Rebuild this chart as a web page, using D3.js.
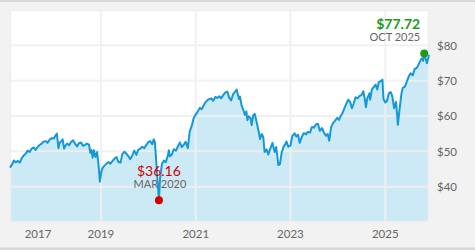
<!DOCTYPE html>
<html>
<head>
<meta charset="utf-8">
<script src="https://cdn.jsdelivr.net/npm/d3@7"></script>
<style>
  html, body { margin: 0; padding: 0; background: #f2f2f2; }
  svg { display: block; font-family: Lato, "Open Sans", sans-serif; }
</style>
</head>
<body>
<svg id="chart" width="475" height="250"></svg>
<script>
const dates2017 = ["2017-01-30","2017-02-15","2017-03-01","2017-03-15","2017-04-01","2017-04-15","2017-05-01","2017-05-15","2017-06-01","2017-06-15","2017-07-01","2017-07-15","2017-08-01","2017-08-15","2017-09-01","2017-09-15","2017-10-01","2017-10-15","2017-11-01","2017-11-15","2017-12-01","2017-12-15"];
const prices2017 = [45.4,46.3,47.4,46.9,47.3,46.8,48.1,48.8,49.4,50.2,49.8,50.7,51.1,50.4,51.3,51.8,52.2,52.7,52.9,52.4,53.3,53.7];

const dates2018 = ["2018-01-02","2018-01-15","2018-01-26","2018-02-08","2018-02-15","2018-03-01","2018-03-12","2018-03-23","2018-04-01","2018-04-15","2018-05-01","2018-05-15","2018-06-01","2018-06-15","2018-07-01","2018-07-15","2018-08-01","2018-08-15","2018-09-01","2018-09-15","2018-10-01","2018-10-11","2018-10-20","2018-10-29","2018-11-08","2018-11-20","2018-12-03","2018-12-14","2018-12-24"];
const prices2018 = [53.6,54.4,55.0,50.9,52.3,52.9,53.4,50.8,51.5,52.2,51.7,52.6,53.1,52.2,51.4,52.3,52.5,51.6,51.8,52.2,51.9,49.6,50.4,48.2,50.3,48.4,49.8,45.9,41.4];

const dates2019 = ["2019-01-04","2019-01-15","2019-02-01","2019-02-15","2019-03-01","2019-03-15","2019-04-01","2019-04-15","2019-05-01","2019-05-15","2019-06-01","2019-06-15","2019-07-01","2019-07-15","2019-08-01","2019-08-15","2019-09-01","2019-09-15","2019-10-01","2019-10-15","2019-11-01","2019-11-15","2019-12-01","2019-12-15"];
const prices2019 = [44.2,45.4,46.1,46.6,47.0,46.5,47.3,47.9,48.4,47.0,46.8,49.2,49.9,49.4,48.6,47.8,48.9,50.2,49.0,50.4,50.8,51.3,50.9,51.7];

const dates2020 = ["2020-01-01","2020-01-15","2020-02-01","2020-02-12","2020-02-21","2020-03-01","2020-03-09","2020-03-16","2020-03-23","2020-04-01","2020-04-15","2020-05-01","2020-05-15","2020-06-01","2020-06-08","2020-06-15","2020-07-01","2020-07-15","2020-08-01","2020-08-15","2020-09-01","2020-09-15","2020-10-01","2020-10-15","2020-11-01","2020-11-15","2020-12-01","2020-12-15"];
const prices2020 = [52.6,52.9,52.0,53.4,52.6,48.0,43.1,39.9,36.16,42.4,46.4,47.4,46.9,49.0,50.3,48.6,49.1,50.6,50.2,51.3,52.5,51.2,51.9,52.7,50.9,55.6,57.2,59.3];

const dates2021 = ["2021-01-01","2021-01-15","2021-02-01","2021-02-15","2021-03-01","2021-03-15","2021-04-01","2021-04-15","2021-05-01","2021-05-15","2021-06-01","2021-06-15","2021-07-01","2021-07-15","2021-08-01","2021-08-15","2021-09-01","2021-09-15","2021-10-01","2021-10-15","2021-11-01","2021-11-12","2021-11-30","2021-12-08","2021-12-20"];
const prices2021 = [60.4,61.2,62.3,61.9,62.8,63.8,64.5,64.8,65.0,64.3,65.4,65.1,65.6,65.0,65.9,66.6,66.9,65.2,64.4,66.1,66.9,67.5,64.8,65.5,63.1];

const dates2022 = ["2022-01-01","2022-01-15","2022-01-26","2022-02-03","2022-02-15","2022-02-28","2022-03-08","2022-03-20","2022-04-01","2022-04-15","2022-05-01","2022-05-12","2022-05-25","2022-06-05","2022-06-16","2022-07-01","2022-07-14","2022-08-01","2022-08-16","2022-09-01","2022-09-13","2022-09-30","2022-10-12","2022-10-25","2022-11-10","2022-11-25","2022-12-01","2022-12-15"];
const prices2022 = [61.9,60.3,61.3,58.8,59.9,59.4,57.4,60.2,60.6,58.3,55.6,53.5,54.9,54.1,49.8,50.6,49.1,51.0,52.4,49.8,51.2,46.1,46.4,49.6,51.4,52.2,52.8,51.3];

const dates2023 = ["2023-01-01","2023-01-15","2023-02-01","2023-02-15","2023-03-01","2023-03-13","2023-04-01","2023-04-15","2023-05-01","2023-05-15","2023-06-01","2023-06-15","2023-07-01","2023-07-15","2023-08-01","2023-08-15","2023-09-01","2023-09-15","2023-10-01","2023-10-15","2023-10-27","2023-11-10","2023-11-25","2023-12-10","2023-12-28"];
const prices2023 = [51.6,54.3,55.1,54.2,54.7,52.4,54.3,55.2,54.8,55.5,55.3,56.9,56.7,57.6,57.8,55.8,56.6,55.4,54.4,54.9,53.0,56.8,58.0,58.6,59.5];

const dates2024 = ["2024-01-10","2024-01-25","2024-02-08","2024-02-22","2024-03-07","2024-03-21","2024-04-05","2024-04-19","2024-05-03","2024-05-17","2024-06-01","2024-06-15","2024-07-01","2024-07-16","2024-07-25","2024-08-05","2024-08-15","2024-09-01","2024-09-06","2024-09-20","2024-10-05","2024-10-18","2024-10-31","2024-11-12","2024-11-29","2024-12-10","2024-12-18"];
const prices2024 = [58.9,60.1,61.0,62.3,63.5,64.6,64.0,62.2,63.6,65.3,65.0,65.6,65.9,67.0,65.2,62.5,65.0,66.4,64.6,67.6,68.2,68.9,67.5,69.6,69.9,70.3,64.8];

const dates2025 = ["2025-01-01","2025-01-13","2025-01-28","2025-02-12","2025-02-25","2025-03-10","2025-03-25","2025-04-03","2025-04-08","2025-04-20","2025-05-05","2025-05-15","2025-06-01","2025-06-15","2025-07-01","2025-07-15","2025-08-01","2025-08-15","2025-09-01","2025-09-15","2025-10-01","2025-10-10","2025-10-20","2025-10-28","2025-11-07","2025-11-18","2025-12-04"];
const prices2025 = [63.8,64.2,66.4,66.8,65.4,62.2,64.0,60.0,57.5,61.6,66.2,67.9,68.3,69.6,71.2,72.1,71.5,73.3,73.6,74.6,75.9,76.3,75.6,77.72,76.4,74.9,77.3];

const yTickValues = [40, 50, 60, 70, 80];
const xTickYears = [2017, 2019, 2021, 2023, 2025];
const yDomain = [30, 90];

// ---- build
const parse = d3.timeParse("%Y-%m-%d");
const allDates = [].concat(dates2017, dates2018, dates2019, dates2020, dates2021, dates2022, dates2023, dates2024, dates2025);
const allPrices = [].concat(prices2017, prices2018, prices2019, prices2020, prices2021, prices2022, prices2023, prices2024, prices2025);
const data = allDates.map((d, i) => ({ date: parse(d), value: allPrices[i] }));

const W = 475, H = 250;
const M = { left: 10, top: 10, right: 46, bottom: 28 };
const svg = d3.select("#chart");

svg.append("rect").attr("width", W).attr("height", H).attr("fill", "#f2f2f2");
svg.append("rect").attr("width", W).attr("height", 2).attr("fill", "#d8d8d8");
svg.append("rect").attr("y", H - 2.5).attr("width", W).attr("height", 2.5).attr("fill", "#d8d8d8");

const x = d3.scaleTime().domain(d3.extent(data, d => d.date)).range([M.left, W - M.right]);
const y = d3.scaleLinear().domain(yDomain).range([H - M.bottom, M.top]);

const [x0, x1] = x.range();
const [yb, yt] = y.range();

svg.append("rect").attr("x", x0).attr("y", yt).attr("width", x1 - x0).attr("height", yb - yt).attr("fill", "#ffffff");

const area = d3.area().x(d => x(d.date)).y0(yb).y1(d => y(d.value));
svg.append("path").datum(data).attr("d", area).attr("fill", "#cce9f6");

// gridlines
const grid = svg.append("g").attr("stroke", "#f0f0f0").attr("stroke-width", 2).attr("opacity", 0.9);
grid.selectAll("line.h").data(yTickValues).join("line")
  .attr("x1", x0).attr("x2", x1).attr("y1", d => y(d)).attr("y2", d => y(d));
const yearDates = xTickYears.map(yr => new Date(yr, 0, 1));
grid.selectAll("line.v").data(yearDates.filter(d => x(d) > x0 && x(d) < x1)).join("line")
  .attr("x1", d => x(d)).attr("x2", d => x(d)).attr("y1", yt).attr("y2", yb);
svg.append("rect").attr("x", x0 + 0.5).attr("y", yt + 0.5).attr("width", x1 - x0 - 1).attr("height", yb - yt - 1)
  .attr("fill", "none").attr("stroke", "#eeeeee").attr("stroke-width", 1.5);

// line
const line = d3.line().x(d => x(d.date)).y(d => y(d.value));
svg.append("path").datum(data).attr("d", line).attr("fill", "none")
  .attr("stroke", "#1598d8").attr("stroke-width", 2).attr("stroke-linejoin", "round");

// axes
const yAxis = d3.axisRight(y).tickValues(yTickValues).tickFormat(d => "$" + d).tickSize(0).tickPadding(8);
const gy = svg.append("g").attr("transform", `translate(${x1},0)`).call(yAxis);
gy.select(".domain").remove();
gy.selectAll("text").attr("fill", "#666").style("font-size", "11.5px").style("font-family", "Lato");

const xAxis = d3.axisBottom(x).tickValues(yearDates).tickFormat(d3.timeFormat("%Y")).tickSize(0).tickPadding(7.5);
const gx = svg.append("g").attr("transform", `translate(0,${yb})`).call(xAxis);
gx.select(".domain").remove();
gx.selectAll("text").attr("fill", "#666").style("font-size", "11.5px").style("font-family", "Lato");
// keep first label inside the plot
const minLabelX = x0 + 28;
gx.selectAll(".tick").attr("transform", d => `translate(${Math.max(x(d), minLabelX)},0)`);

// low / high markers
const lowPt = data.reduce((a, b) => (b.value < a.value ? b : a));
const highPt = data.reduce((a, b) => (b.value > a.value ? b : a));
const fmtMonth = d => d3.timeFormat("%b %Y")(d).toUpperCase();

svg.append("circle").attr("cx", x(lowPt.date)).attr("cy", y(lowPt.value)).attr("r", 4).attr("fill", "#d40000");
svg.append("text").attr("x", x(lowPt.date)).attr("y", y(lowPt.value) - 24).attr("text-anchor", "middle")
  .attr("fill", "#d40000").style("font-size", "14px").text("$" + lowPt.value.toFixed(2));
svg.append("text").attr("x", x(lowPt.date) + 1).attr("y", y(lowPt.value) - 12).attr("text-anchor", "middle")
  .attr("fill", "#666").style("font-size", "11px").text(fmtMonth(lowPt.date));

svg.append("circle").attr("cx", x(highPt.date)).attr("cy", y(highPt.value)).attr("r", 4).attr("fill", "#1a9c1a");
svg.append("text").attr("x", x(highPt.date) - 4).attr("y", y(highPt.value) - 24).attr("text-anchor", "end")
  .attr("fill", "#1a9c1a").style("font-size", "14px").style("font-weight", "bold").text("$" + highPt.value.toFixed(2));
svg.append("text").attr("x", x(highPt.date) - 4).attr("y", y(highPt.value) - 12).attr("text-anchor", "end")
  .attr("fill", "#666").style("font-size", "11px").text(fmtMonth(highPt.date));
</script>
</body>
</html>
